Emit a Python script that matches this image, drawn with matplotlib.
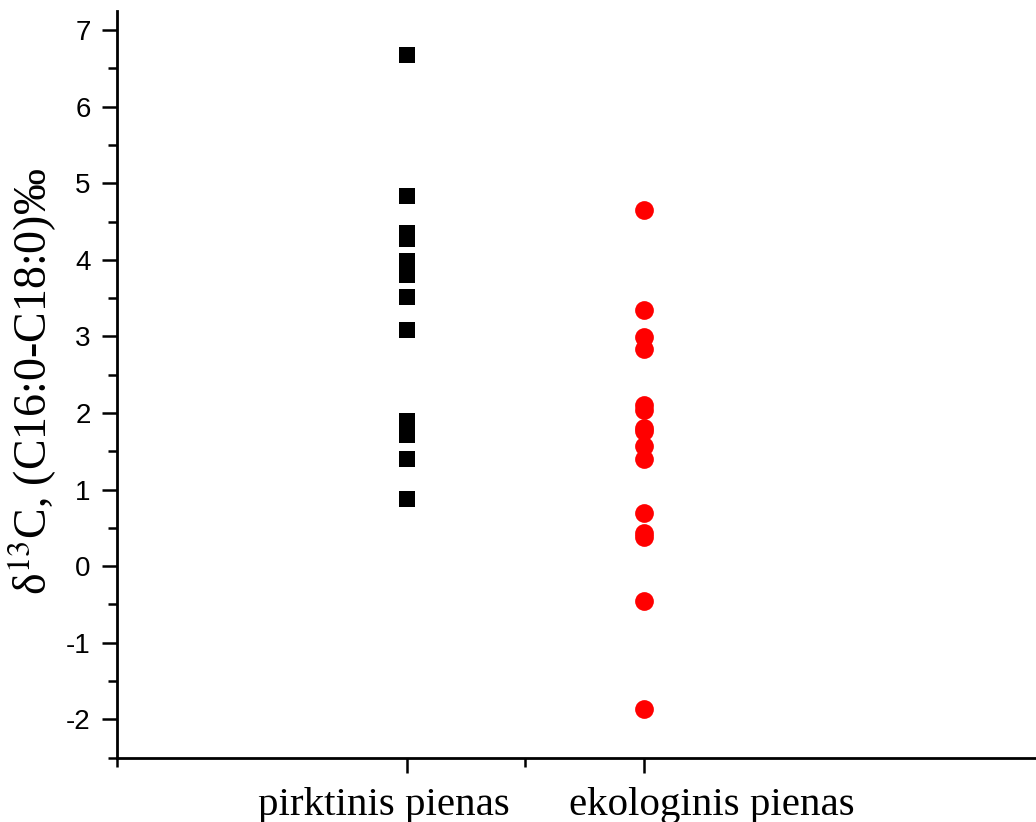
import numpy as np
import matplotlib
matplotlib.use('Agg')
import matplotlib.pyplot as plt
import matplotlib.transforms as mtransforms
from matplotlib.ticker import FixedLocator, MultipleLocator

categories = ['pirktinis pienas', 'ekologinis pienas']
pirktinis = [6.68, 4.84, 4.35, 4.27, 3.99, 3.80, 3.52, 3.09, 1.90, 1.71, 1.40, 0.87]
ekologinis = [4.65, 3.35, 2.99, 2.84, 2.11, 2.04, 1.81, 1.76, 1.57, 1.40,
              0.69, 0.43, 0.38, -0.46, -1.87]

plt.rcParams['mathtext.fontset'] = 'stix'
plt.rcParams['axes.unicode_minus'] = False

fig = plt.figure(figsize=(10.36, 8.22), dpi=100)
ax = fig.add_axes([117/1036, 64.5/822, 1 - 117/1036, (757.5 - 11)/822])

ax.scatter(np.full(len(pirktinis), 1), pirktinis, marker='s', s=11.5**2,
           color='black', linewidths=0, zorder=3, clip_on=False)
ax.scatter(np.full(len(ekologinis), 2), ekologinis, marker='o', s=13.5**2,
           color='red', linewidths=0, zorder=3, clip_on=False)

ax.set_xlim(-0.219, 3.65)
ax.set_ylim(-2.5, 7.25)

ax.spines['top'].set_visible(False)
ax.spines['right'].set_visible(False)
for s in ['left', 'bottom']:
    ax.spines[s].set_linewidth(2.0)

ax.set_xticks([1, 2])
ax.set_xticklabels(categories, family='Liberation Serif', fontsize=29.5)
ax.xaxis.set_minor_locator(FixedLocator([-0.219, 1.5]))
ax.yaxis.set_major_locator(MultipleLocator(1))
ax.yaxis.set_minor_locator(MultipleLocator(0.5))
ax.tick_params(axis='both', which='major', direction='out', length=11, width=1.8)
ax.tick_params(axis='both', which='minor', direction='out', length=6.5, width=1.8)
ax.tick_params(axis='x', which='major', pad=10)
ax.tick_params(axis='y', which='major', pad=8, labelsize=20)
for lab in ax.get_yticklabels():
    lab.set_family('Liberation Sans')

# the category labels sit off-centre from their ticks in the original
shifts = [-23, 68]
for lab, dx in zip(ax.get_xticklabels(), shifts):
    lab.set_transform(lab.get_transform() +
                      mtransforms.ScaledTranslation(dx/100, 0, fig.dpi_scale_trans))

ax.set_ylabel(r'δ$^{13}$C, (C16:0-C18:0)‰', family='Liberation Serif', fontsize=33)
ax.yaxis.set_label_coords(-0.063, 0.504)

fig.savefig('out.png', dpi=100)
